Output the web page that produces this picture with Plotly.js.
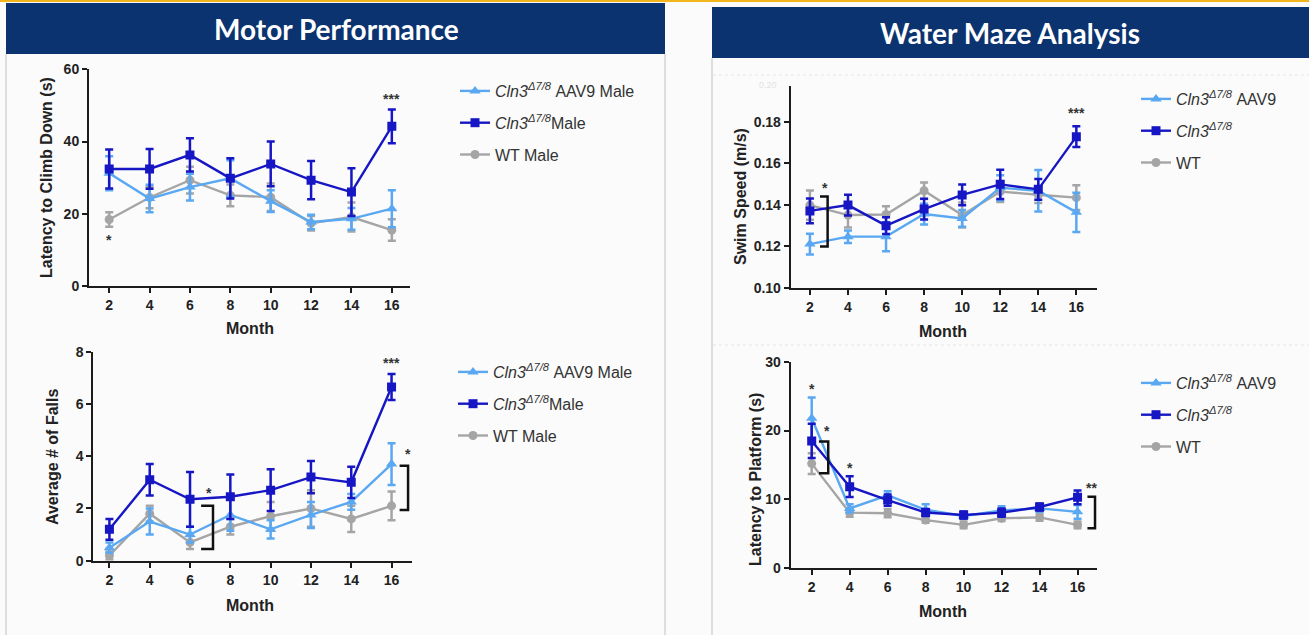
<!DOCTYPE html>
<html>
<head>
<meta charset="utf-8">
<script src="https://cdn.plot.ly/plotly-3.0.1.min.js"></script>
<style>html,body{margin:0;padding:0;background:#fbfbfb;}#chart{width:1309px;height:635px;}</style>
</head>
<body>
<div id="chart"></div>
<script>
// ---- data ----
const months = [2, 4, 6, 8, 10, 12, 14, 16];
const monthTicks = [2, 4, 6, 8, 10, 12, 14, 16];

const climb_aav9 = [31.2, 24.2, 27.4, 29.8, 23.5, 17.7, 18.6, 21.4];
const climb_aav9_err = [4.7, 3.8, 3.7, 5.0, 3.0, 2.0, 3.0, 5.1];
const climb_cln3 = [32.4, 32.4, 36.3, 29.8, 33.8, 29.3, 26.0, 44.2];
const climb_cln3_err = [5.4, 5.5, 4.6, 5.6, 6.2, 5.3, 6.6, 4.7];
const climb_wt = [18.4, 24.5, 29.3, 25.1, 24.6, 17.4, 19.1, 15.5];
const climb_wt_err = [2.0, 3.0, 3.7, 3.0, 3.8, 2.0, 4.0, 3.0];

const falls_aav9 = [0.5, 1.5, 1.0, 1.75, 1.2, 1.75, 2.25, 3.7];
const falls_aav9_err = [0.2, 0.5, 0.3, 0.6, 0.35, 0.5, 0.3, 0.8];
const falls_cln3 = [1.2, 3.1, 2.35, 2.45, 2.7, 3.2, 3.0, 6.65];
const falls_cln3_err = [0.4, 0.6, 1.05, 0.85, 0.8, 0.62, 0.6, 0.5];
const falls_wt = [0.2, 1.8, 0.7, 1.3, 1.7, 2.0, 1.6, 2.1];
const falls_wt_err = [0.15, 0.3, 0.25, 0.3, 0.55, 0.7, 0.5, 0.55];

const swim_aav9 = [0.121, 0.1246, 0.1246, 0.1355, 0.1334, 0.1482, 0.1467, 0.1363];
const swim_aav9_err = [0.005, 0.003, 0.007, 0.005, 0.004, 0.006, 0.010, 0.0095];
const swim_cln3 = [0.137, 0.1398, 0.1299, 0.1379, 0.1447, 0.1498, 0.1474, 0.1728];
const swim_cln3_err = [0.006, 0.005, 0.004, 0.005, 0.005, 0.007, 0.005, 0.005];
const swim_wt = [0.1398, 0.135, 0.1353, 0.1467, 0.135, 0.1463, 0.1448, 0.1434];
const swim_wt_err = [0.007, 0.006, 0.004, 0.004, 0.006, 0.005, 0.004, 0.006];

const plat_aav9 = [21.8, 8.7, 10.6, 8.5, 7.6, 8.4, 8.7, 8.2];
const plat_aav9_err = [3.0, 0.6, 0.6, 0.8, 0.4, 0.6, 0.5, 1.0];
const plat_cln3 = [18.5, 11.85, 9.9, 8.1, 7.74, 8.08, 8.9, 10.3];
const plat_cln3_err = [2.5, 1.5, 0.8, 0.5, 0.5, 0.6, 0.5, 1.0];
const plat_wt = [15.2, 8.08, 8.0, 7.0, 6.3, 7.26, 7.4, 6.3];
const plat_wt_err = [1.5, 0.6, 0.6, 0.4, 0.5, 0.4, 0.5, 0.5];

const leftNames = ["<i>Cln3</i><sup><i>Δ7/8</i></sup> AAV9 Male", "<i>Cln3</i><sup><i>Δ7/8</i></sup>Male", "WT Male"];
const rightNames = ["<i>Cln3</i><sup><i>Δ7/8</i></sup> AAV9", "<i>Cln3</i><sup><i>Δ7/8</i></sup>", "WT"];

// significance marks: [axisIndex, x, y, text]
const stars = [
  [1, 2, 12.7, "*"], [1, 16, 51.7, "***"],
  [2, 6.95, 2.6, "*"], [2, 16.8, 4.1, "*"], [2, 16, 7.55, "***"],
  [3, 2.79, 0.1479, "*"], [3, 16, 0.184, "***"],
  [4, 2, 26, "*"], [4, 2.79, 20, "*"], [4, 4, 14.6, "*"], [4, 16.75, 11.6, "**"]
];
// brackets: [axisIndex, xLeft, xRight, yBottom, yTop]
const brackets = [
  [2, 6.55, 7.14, 0.45, 2.1], [2, 16.4, 16.82, 1.94, 3.63],
  [3, 2.53, 2.93, 0.1198, 0.1439],
  [4, 2.38, 2.87, 13.8, 18.4], [4, 16.52, 16.92, 5.8, 10.4]
];

// ---- styling ----
const W = 1309, H = 635;
const fx = p => p / W, fy = p => 1 - p / H;
const C_AAV = "#5aa8f2", C_CLN = "#1616c4", C_WT = "#a5a5a5";
const FONT = "Liberation Sans, Arial, sans-serif";

const groups = [
  {ax: 1, names: leftNames, legend: "legend", data: [[climb_aav9, climb_aav9_err], [climb_cln3, climb_cln3_err], [climb_wt, climb_wt_err]]},
  {ax: 2, names: leftNames, legend: "legend2", data: [[falls_aav9, falls_aav9_err], [falls_cln3, falls_cln3_err], [falls_wt, falls_wt_err]]},
  {ax: 3, names: rightNames, legend: "legend3", data: [[swim_aav9, swim_aav9_err], [swim_cln3, swim_cln3_err], [swim_wt, swim_wt_err]]},
  {ax: 4, names: rightNames, legend: "legend4", data: [[plat_aav9, plat_aav9_err], [plat_cln3, plat_cln3_err], [plat_wt, plat_wt_err]]}
];
const styles = [
  {color: C_AAV, symbol: "triangle-up", size: 10, rank: 1},
  {color: C_CLN, symbol: "square", size: 9, rank: 2},
  {color: C_WT, symbol: "circle", size: 9, rank: 3}
];
const drawOrder = [2, 0, 1]; // WT, AAV9, Cln3 on top

const traces = [];
groups.forEach(g => {
  drawOrder.forEach(i => {
    const s = styles[i];
    traces.push({
      type: "scatter", mode: "lines+markers",
      x: months, y: g.data[i][0],
      error_y: {type: "data", array: g.data[i][1], visible: true, color: s.color, thickness: 2.5, width: 4},
      line: {color: s.color, width: 2.4},
      marker: {color: s.color, symbol: s.symbol, size: s.size},
      name: g.names[i],
      legend: g.legend,
      legendgroup: g.legend + "_" + i,
      legendrank: s.rank,
      xaxis: g.ax === 1 ? "x" : "x" + g.ax,
      yaxis: g.ax === 1 ? "y" : "y" + g.ax,
      hoverinfo: "skip"
    });
  });
});

function axisBase() {
  return {
    showline: true, linewidth: 2, linecolor: "#1c1c1c",
    ticks: "outside", ticklen: 5, tickwidth: 2, tickcolor: "#1c1c1c",
    showgrid: false, zeroline: false,
    tickfont: {family: FONT, size: 14, color: "#222", weight: 700},
    fixedrange: true
  };
}
function xAxis(dom, range, anchor) {
  return Object.assign(axisBase(), {domain: [fx(dom[0]), fx(dom[1])], range: range, anchor: anchor,
    tickmode: "array", tickvals: monthTicks, ticktext: monthTicks.map(String)});
}
function yAxis(dom, range, anchor, tickvals, fmt) {
  return Object.assign(axisBase(), {domain: [fy(dom[1]), fy(dom[0])], range: range, anchor: anchor,
    tickmode: "array", tickvals: tickvals, ticktext: tickvals.map(fmt)});
}

const legendBase = {
  font: {family: FONT, size: 16, color: "#333"},
  bgcolor: "rgba(0,0,0,0)", borderwidth: 0,
  xanchor: "left", yanchor: "top",
  traceorder: "grouped", tracegroupgap: 8, itemclick: false, itemdoubleclick: false
};

const annotations = [];
function txt(x, y, text, size, opts) {
  annotations.push(Object.assign({xref: "paper", yref: "paper", x: fx(x), y: fy(y), text: text, showarrow: false,
    font: {family: FONT, size: size, color: "#222", weight: 700}, xanchor: "center", yanchor: "middle"}, opts || {}));
}
// headers
txt(336, 29, "Motor Performance", 28, {font: {family: "Lato, Open Sans, sans-serif", size: 28, color: "#ffffff", weight: 700}});
txt(1010, 33, "Water Maze Analysis", 28, {font: {family: "Lato, Open Sans, sans-serif", size: 28, color: "#ffffff", weight: 700}});
// axis titles
txt(46, 178, "Latency to Climb Down (s)", 16, {textangle: -90});
txt(250, 328, "Month", 16);
txt(52, 457, "Average # of Falls", 16, {textangle: -90});
txt(250, 605, "Month", 16);
txt(740, 197, "Swim Speed (m/s)", 16, {textangle: -90});
txt(943, 331, "Month", 16);
txt(755, 480, "Latency to Platform (s)", 16, {textangle: -90});
txt(943, 611, "Month", 16);
// faint cut-off label
txt(768, 85, "0.20", 9, {font: {family: FONT, size: 9, color: "#e2e2e2"}});

stars.forEach(s => {
  annotations.push({xref: s[0] === 1 ? "x" : "x" + s[0], yref: s[0] === 1 ? "y" : "y" + s[0],
    x: s[1], y: s[2], text: s[3], showarrow: false, xanchor: "center", yanchor: "middle",
    font: {family: FONT, size: 14, color: "#333", weight: 700}});
});

const shapes = [
  {type: "rect", xref: "paper", yref: "paper", x0: 0, x1: 1, y0: fy(2), y1: 1, fillcolor: "#f2b61c", line: {width: 0}, layer: "below"},
  {type: "rect", xref: "paper", yref: "paper", x0: fx(6), x1: fx(665), y0: fy(54), y1: fy(3), fillcolor: "#0b3370", line: {width: 0}, layer: "below"},
  {type: "rect", xref: "paper", yref: "paper", x0: fx(712), x1: 1, y0: fy(58), y1: fy(7), fillcolor: "#0b3370", line: {width: 0}, layer: "below"},
  {type: "line", xref: "paper", yref: "paper", x0: fx(6), x1: fx(6), y0: 0, y1: fy(54), line: {color: "#d4d4d4", width: 1.5}, layer: "below"},
  {type: "line", xref: "paper", yref: "paper", x0: fx(665), x1: fx(665), y0: 0, y1: fy(54), line: {color: "#d4d4d4", width: 1.5}, layer: "below"},
  {type: "line", xref: "paper", yref: "paper", x0: fx(712), x1: fx(712), y0: 0, y1: fy(58), line: {color: "#d4d4d4", width: 1.5}, layer: "below"},
  {type: "line", xref: "paper", yref: "paper", x0: fx(713), x1: 1, y0: fy(75), y1: fy(75), line: {color: "#e6e6e6", width: 1, dash: "dot"}, layer: "below"},
  {type: "line", xref: "paper", yref: "paper", x0: fx(713), x1: 1, y0: fy(345), y1: fy(345), line: {color: "#e6e6e6", width: 1, dash: "dot"}, layer: "below"}
];
brackets.forEach(b => {
  const xr = b[0] === 1 ? "x" : "x" + b[0], yr = b[0] === 1 ? "y" : "y" + b[0];
  shapes.push({type: "path", xref: xr, yref: yr,
    path: `M ${b[1]} ${b[4]} L ${b[2]} ${b[4]} L ${b[2]} ${b[3]} L ${b[1]} ${b[3]}`,
    line: {color: "#111", width: 2.5}});
});

const layout = {
  width: W, height: H, margin: {l: 0, r: 0, t: 0, b: 0},
  paper_bgcolor: "#fbfbfb", plot_bgcolor: "rgba(0,0,0,0)",
  showlegend: true,
  xaxis: xAxis([89, 410], [1, 16.9], "y"),
  yaxis: yAxis([69.3, 286], [0, 60], "x", [0, 20, 40, 60], v => String(v)),
  xaxis2: xAxis([93.3, 411.7], [1.2, 17], "y2"),
  yaxis2: yAxis([351.7, 560.7], [0, 8], "x2", [0, 2, 4, 6, 8], v => String(v)),
  xaxis3: xAxis([790.7, 1096.7], [0.99, 17.07], "y3"),
  yaxis3: yAxis([86, 287.7], [0.10, 0.1972], "x3", [0.10, 0.12, 0.14, 0.16, 0.18], v => v.toFixed(2)),
  xaxis4: xAxis([790.7, 1097.3], [0.894, 17.04], "y4"),
  yaxis4: yAxis([361.7, 568.3], [0, 30], "x4", [0, 10, 20, 30], v => String(v)),
  legend: Object.assign({}, legendBase, {x: fx(455), y: fy(74)}),
  legend2: Object.assign({}, legendBase, {x: fx(453), y: fy(355)}),
  legend3: Object.assign({}, legendBase, {x: fx(1136), y: fy(82)}),
  legend4: Object.assign({}, legendBase, {x: fx(1136), y: fy(366)}),
  annotations: annotations,
  shapes: shapes
};

Plotly.newPlot("chart", traces, layout, {displayModeBar: false, staticPlot: false});
</script>
</body>
</html>
